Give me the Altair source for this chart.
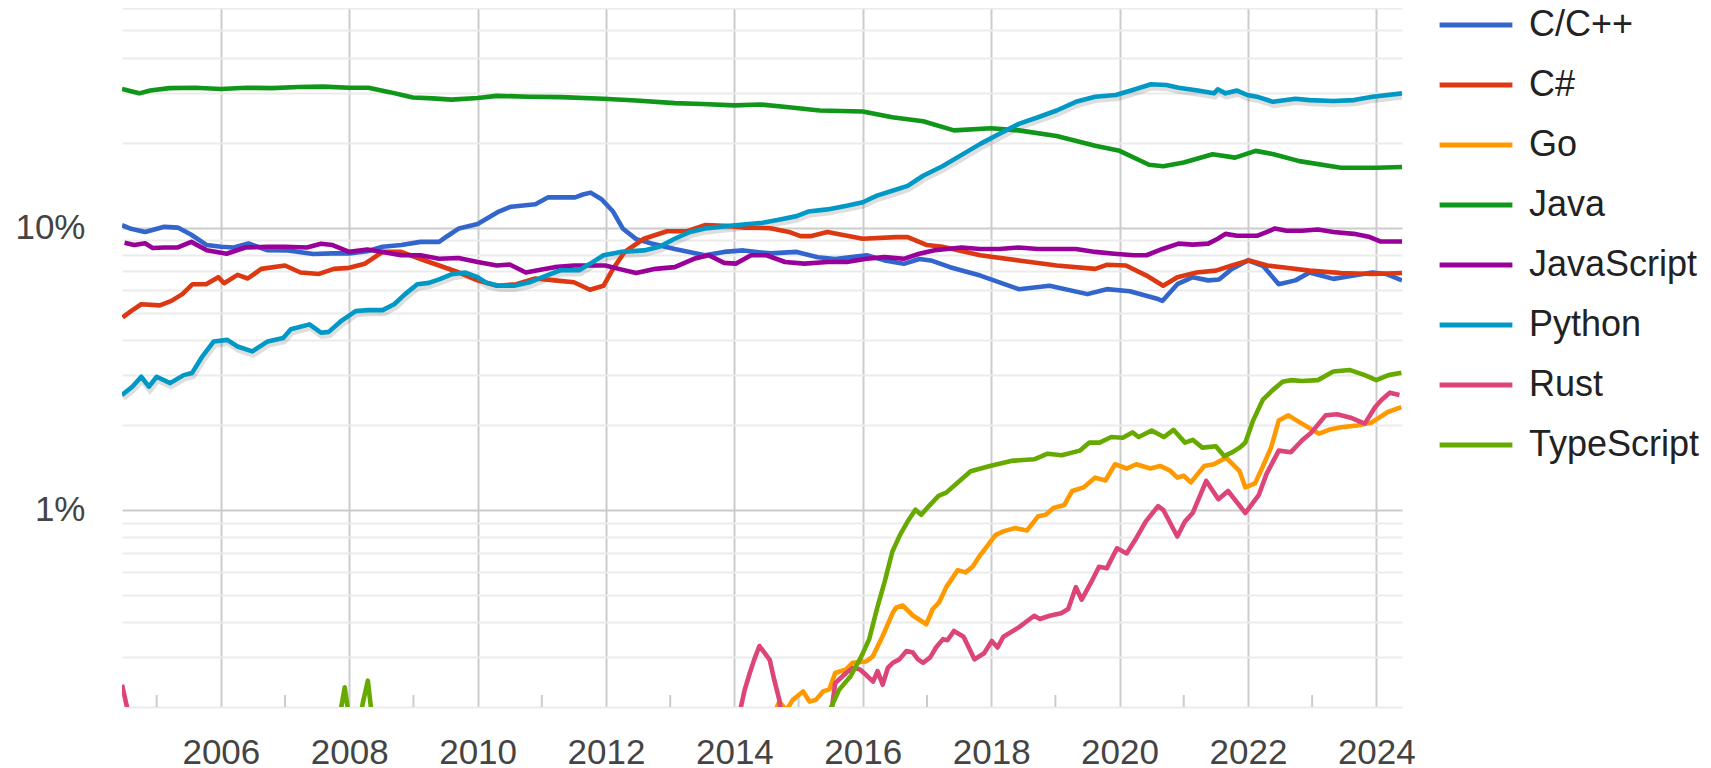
import altair as alt
import pandas as pd

FONT = "Liberation Sans"

langs = ["C/C++", "C#", "Go", "Java", "JavaScript", "Python", "Rust", "TypeScript"]
colors = ["#3366cc", "#dc3912", "#ff9900", "#109618", "#990099", "#0099c6", "#dd4477", "#66aa00"]

cpp_years = [2004.46, 2004.6, 2004.82, 2005.12, 2005.33, 2005.54, 2005.78, 2006.0, 2006.2, 2006.43,
             2006.73, 2007.05, 2007.44, 2007.73, 2008.0, 2008.28, 2008.52, 2008.81, 2009.11, 2009.4,
             2009.52, 2009.71, 2010.0, 2010.33, 2010.52, 2010.9, 2011.1, 2011.52, 2011.64, 2011.76,
             2011.93, 2012.11, 2012.26, 2012.47, 2012.71, 2013.07, 2013.54, 2013.84, 2014.14, 2014.56,
             2014.97, 2015.3, 2015.57, 2016.06, 2016.34, 2016.64, 2016.88, 2017.06, 2017.36, 2017.83,
             2018.43, 2018.91, 2019.5, 2019.8, 2020.16, 2020.6, 2020.67, 2020.9, 2021.14, 2021.38,
             2021.55, 2021.75, 2022.0, 2022.24, 2022.48, 2022.74, 2022.96, 2023.33, 2023.65, 2023.94,
             2024.15, 2024.4]
cpp_vals = [10.2, 9.9, 9.65, 10.06, 10.0, 9.43, 8.67, 8.55, 8.5, 8.78,
            8.31, 8.3, 8.06, 8.1, 8.1, 8.24, 8.55, 8.67, 8.9, 8.9,
            9.3, 9.93, 10.3, 11.4, 11.86, 12.1, 12.8, 12.8, 13.1, 13.3,
            12.6, 11.4, 9.93, 9.1, 8.78, 8.4, 7.98, 8.2, 8.3, 8.1,
            8.2, 7.85, 7.74, 7.98, 7.65, 7.44, 7.74, 7.65, 7.24, 6.76,
            6.05, 6.22, 5.81, 6.05, 5.95, 5.58, 5.5, 6.3, 6.67, 6.5,
            6.55, 7.14, 7.65, 7.3, 6.3, 6.5, 6.93, 6.58, 6.76, 6.93,
            6.85, 6.5]

cs_years = [2004.47, 2004.6, 2004.76, 2005.05, 2005.23, 2005.4, 2005.56, 2005.77, 2005.96, 2006.05,
            2006.26, 2006.42, 2006.63, 2007.0, 2007.24, 2007.53, 2007.76, 2008.0, 2008.24, 2008.52,
            2008.81, 2009.11, 2009.4, 2009.71, 2010.0, 2010.3, 2010.6, 2010.9, 2011.2, 2011.5,
            2011.75, 2011.96, 2012.11, 2012.29, 2012.59, 2012.95, 2013.25, 2013.54, 2013.84, 2014.14,
            2014.56, 2014.85, 2015.03, 2015.2, 2015.45, 2016.0, 2016.52, 2016.7, 2017.0, 2017.24,
            2017.83, 2018.43, 2019.02, 2019.62, 2019.8, 2020.1, 2020.42, 2020.68, 2020.9, 2021.2,
            2021.5, 2021.75, 2022.02, 2022.3, 2022.6, 2022.96, 2023.45, 2023.94, 2024.4]
cs_vals = [4.8, 5.06, 5.35, 5.3, 5.5, 5.81, 6.3, 6.3, 6.67, 6.35,
           6.8, 6.6, 7.14, 7.34, 6.93, 6.85, 7.14, 7.2, 7.44, 8.2,
           8.2, 7.74, 7.34, 6.93, 6.5, 6.22, 6.3, 6.6, 6.5, 6.4,
           6.02, 6.22, 7.14, 8.2, 9.13, 9.7, 9.7, 10.2, 10.15, 10.0,
           9.95, 9.65, 9.33, 9.33, 9.65, 9.13, 9.25, 9.25, 8.67, 8.55,
           7.98, 7.65, 7.34, 7.14, 7.38, 7.34, 6.76, 6.22, 6.67, 6.93,
           7.04, 7.34, 7.65, 7.34, 7.2, 7.04, 6.9, 6.85, 6.9]

go_years = [2014.55, 2014.62, 2014.70, 2014.81, 2014.91, 2015.07, 2015.17, 2015.27, 2015.38, 2015.48,
            2015.57, 2015.74, 2015.84, 2016.05, 2016.16, 2016.31, 2016.47, 2016.52, 2016.62, 2016.78,
            2016.99, 2017.09, 2017.19, 2017.3, 2017.48, 2017.6, 2017.71, 2017.83, 2018.07, 2018.2,
            2018.37, 2018.56, 2018.73, 2018.85, 2018.97, 2019.14, 2019.26, 2019.44, 2019.62, 2019.78,
            2019.93, 2020.11, 2020.26, 2020.48, 2020.63, 2020.78, 2020.9, 2021.0, 2021.11, 2021.32,
            2021.47, 2021.66, 2021.87, 2021.96, 2022.11, 2022.23, 2022.36, 2022.48, 2022.63, 2022.84,
            2023.11, 2023.26, 2023.45, 2023.7, 2023.93, 2024.18, 2024.39]
go_vals = [0.15, 0.19, 0.209, 0.195, 0.212, 0.227, 0.209, 0.212, 0.227, 0.231,
           0.264, 0.272, 0.287, 0.29, 0.303, 0.357, 0.433, 0.45, 0.458, 0.422,
           0.393, 0.445, 0.47, 0.532, 0.611, 0.6, 0.628, 0.691, 0.815, 0.84,
           0.861, 0.845, 0.948, 0.96, 1.015, 1.04, 1.165, 1.2, 1.3, 1.27,
           1.45, 1.40, 1.45, 1.40, 1.43, 1.38, 1.30, 1.32, 1.25, 1.43,
           1.45, 1.53, 1.37, 1.2, 1.24, 1.42, 1.66, 2.07, 2.16, 2.02,
           1.86, 1.92, 1.96, 1.99, 2.04, 2.22, 2.31]

java_years = [2004.46, 2004.6, 2004.73, 2004.9, 2005.2, 2005.6, 2006.0, 2006.4, 2006.8, 2007.2,
              2007.6, 2008.0, 2008.3, 2008.63, 2008.99, 2009.3, 2009.59, 2010.0, 2010.3, 2010.8,
              2011.3, 2011.96, 2012.47, 2013.07, 2013.5, 2014.0, 2014.4, 2014.85, 2015.33, 2016.0,
              2016.46, 2016.94, 2017.42, 2018.0, 2018.43, 2019.02, 2019.62, 2020.0, 2020.46, 2020.68,
              2021.0, 2021.45, 2021.8, 2022.12, 2022.4, 2022.8, 2023.45, 2024.0, 2024.4]
java_vals = [31.0, 30.4, 29.9, 30.6, 31.2, 31.3, 31.0, 31.3, 31.2, 31.5,
             31.6, 31.3, 31.3, 30.2, 28.9, 28.7, 28.4, 28.8, 29.3, 29.1,
             29.0, 28.6, 28.2, 27.6, 27.4, 27.1, 27.3, 26.7, 26.0, 25.8,
             24.6, 23.8, 22.1, 22.5, 22.1, 21.1, 19.5, 18.7, 16.7, 16.5,
             17.0, 18.2, 17.7, 18.7, 18.2, 17.2, 16.3, 16.3, 16.4]

js_years = [2004.5, 2004.65, 2004.82, 2004.94, 2005.12, 2005.33, 2005.54, 2005.78, 2006.09, 2006.38,
            2006.73, 2007.0, 2007.34, 2007.56, 2007.74, 2008.0, 2008.28, 2008.52, 2008.81, 2009.11,
            2009.4, 2009.7, 2010.0, 2010.3, 2010.5, 2010.75, 2011.0, 2011.2, 2011.5, 2011.99,
            2012.23, 2012.47, 2012.77, 2013.07, 2013.37, 2013.6, 2013.84, 2014.02, 2014.26, 2014.5,
            2014.79, 2015.09, 2015.45, 2015.75, 2016.06, 2016.34, 2016.64, 2016.88, 2017.12, 2017.54,
            2017.83, 2018.13, 2018.43, 2018.73, 2019.32, 2019.62, 2019.92, 2020.22, 2020.42, 2020.67,
            2020.92, 2021.14, 2021.38, 2021.53, 2021.65, 2021.83, 2022.14, 2022.3, 2022.42, 2022.6,
            2022.84, 2023.09, 2023.33, 2023.65, 2023.88, 2024.06, 2024.4]
js_vals = [8.83, 8.67, 8.8, 8.46, 8.5, 8.5, 8.9, 8.31, 8.08, 8.5,
           8.55, 8.55, 8.5, 8.77, 8.67, 8.2, 8.36, 8.2, 7.98, 7.98,
           7.75, 7.8, 7.55, 7.34, 7.4, 6.93, 7.1, 7.24, 7.34, 7.34,
           7.11, 6.9, 7.14, 7.24, 7.75, 7.98, 7.5, 7.45, 7.98, 7.98,
           7.55, 7.45, 7.55, 7.55, 7.75, 7.86, 7.75, 8.08, 8.31, 8.5,
           8.4, 8.4, 8.5, 8.4, 8.4, 8.2, 8.08, 7.98, 7.98, 8.4,
           8.77, 8.7, 8.77, 9.13, 9.5, 9.35, 9.35, 9.65, 9.93, 9.75,
           9.75, 9.85, 9.65, 9.5, 9.28, 8.93, 8.93]

py_years = [2004.46, 2004.62, 2004.76, 2004.88, 2005.0, 2005.21, 2005.42, 2005.55, 2005.71, 2005.89,
            2006.1, 2006.26, 2006.49, 2006.73, 2006.97, 2007.09, 2007.38, 2007.56, 2007.68, 2007.87,
            2008.1, 2008.3, 2008.52, 2008.7, 2008.87, 2009.06, 2009.24, 2009.41, 2009.6, 2009.81,
            2010.0, 2010.14, 2010.33, 2010.57, 2010.81, 2011.05, 2011.29, 2011.58, 2011.75, 2011.96,
            2012.23, 2012.59, 2012.83, 2013.07, 2013.31, 2013.54, 2013.84, 2014.14, 2014.44, 2014.73,
            2014.97, 2015.15, 2015.45, 2015.75, 2016.0, 2016.22, 2016.46, 2016.7, 2016.94, 2017.24,
            2017.54, 2017.83, 2018.13, 2018.43, 2018.73, 2019.02, 2019.32, 2019.62, 2019.94, 2020.18,
            2020.49, 2020.73, 2020.92, 2021.22, 2021.47, 2021.53, 2021.65, 2021.83, 2021.99, 2022.14,
            2022.39, 2022.74, 2022.96, 2023.33, 2023.65, 2023.94, 2024.4]
py_vals = [2.55, 2.73, 2.96, 2.73, 2.96, 2.81, 3.0, 3.05, 3.49, 3.95,
           4.0, 3.79, 3.64, 3.95, 4.06, 4.36, 4.54, 4.24, 4.27, 4.66,
           5.06, 5.1, 5.1, 5.35, 5.81, 6.3, 6.37, 6.57, 6.84, 6.93,
           6.67, 6.37, 6.22, 6.22, 6.4, 6.73, 7.06, 7.06, 7.44, 7.98,
           8.2, 8.3, 8.55, 9.13, 9.65, 9.93, 10.1, 10.25, 10.4, 10.7,
           10.98, 11.4, 11.6, 11.96, 12.3, 12.98, 13.5, 14.06, 15.27, 16.5,
           18.1, 19.8, 21.5, 23.3, 24.6, 26.0, 27.9, 29.1, 29.5, 30.6,
           32.2, 32.0, 31.3, 30.6, 29.9, 30.9, 29.9, 30.6, 29.5, 29.1,
           27.9, 28.6, 28.3, 28.1, 28.3, 29.1, 29.9]

rust_years = [2004.46, 2004.66, 2013.95, 2014.08, 2014.16, 2014.24, 2014.31, 2014.39, 2014.47, 2014.55,
              2014.62, 2014.70, 2014.8, 2015.45, 2015.57, 2015.74, 2015.84, 2015.95, 2016.05, 2016.16,
              2016.23, 2016.31, 2016.39, 2016.47, 2016.57, 2016.68, 2016.78, 2016.86, 2016.94, 2017.05,
              2017.14, 2017.25, 2017.32, 2017.42, 2017.57, 2017.74, 2017.89, 2018.01, 2018.1, 2018.19,
              2018.43, 2018.67, 2018.76, 2018.91, 2019.09, 2019.2, 2019.32, 2019.41, 2019.56, 2019.68,
              2019.8, 2019.96, 2020.11, 2020.26, 2020.41, 2020.6, 2020.68, 2020.9, 2021.02, 2021.14,
              2021.35, 2021.54, 2021.69, 2021.96, 2022.17, 2022.29, 2022.48, 2022.67, 2022.84, 2022.99,
              2023.21, 2023.39, 2023.6, 2023.82, 2023.98, 2024.08, 2024.21, 2024.36]
rust_vals = [0.24, 0.15, 0.15, 0.19, 0.23, 0.264, 0.295, 0.329, 0.311, 0.294,
             0.25, 0.212, 0.15, 0.15, 0.243, 0.264, 0.275, 0.272, 0.26, 0.246,
             0.268, 0.24, 0.275, 0.287, 0.295, 0.316, 0.312, 0.295, 0.287, 0.3,
             0.325, 0.348, 0.345, 0.372, 0.355, 0.295, 0.31, 0.343, 0.325, 0.355,
             0.383, 0.421, 0.41, 0.421, 0.43, 0.445, 0.532, 0.48, 0.555, 0.628,
             0.62, 0.73, 0.7, 0.793, 0.91, 1.03, 1.0, 0.804, 0.91, 0.974,
             1.265, 1.09, 1.165, 0.974, 1.13, 1.34, 1.62, 1.6, 1.76, 1.88,
             2.16, 2.18, 2.12, 2.02, 2.31, 2.45, 2.6, 2.55]

ts_years = [2007.78, 2007.93, 2008.05, 2008.12, 2008.21, 2008.29, 2008.4, 2015.45, 2015.51, 2015.63,
            2015.81, 2015.98, 2016.1, 2016.22, 2016.34, 2016.46, 2016.58, 2016.70, 2016.82, 2016.91,
            2017.03, 2017.18, 2017.3, 2017.48, 2017.68, 2017.98, 2018.31, 2018.67, 2018.88, 2019.1,
            2019.38, 2019.53, 2019.69, 2019.87, 2020.05, 2020.2, 2020.3, 2020.5, 2020.69, 2020.84,
            2021.02, 2021.14, 2021.29, 2021.5, 2021.63, 2021.76, 2021.87, 2021.96, 2022.08, 2022.23,
            2022.39, 2022.54, 2022.67, 2022.84, 2023.09, 2023.33, 2023.58, 2023.82, 2024.0, 2024.19,
            2024.39]
ts_vals = [0.15, 0.235, 0.15, 0.15, 0.206, 0.248, 0.15, 0.15, 0.2, 0.23,
           0.257, 0.303, 0.348, 0.445, 0.555, 0.71, 0.815, 0.91, 1.0, 0.96,
           1.03, 1.12, 1.15, 1.25, 1.37, 1.43, 1.49, 1.51, 1.58, 1.56,
           1.62, 1.73, 1.73, 1.81, 1.80, 1.88, 1.81, 1.91, 1.81, 1.92,
           1.73, 1.77, 1.66, 1.68, 1.55, 1.6, 1.66, 1.73, 2.07, 2.45,
           2.66, 2.84, 2.88, 2.86, 2.88, 3.09, 3.13, 3.0, 2.88, 3.0,
           3.06]

even_years = list(range(2006, 2025, 2))
odd_years = list(range(2005, 2024, 2))
grid_values = [0.2, 0.3, 0.4, 0.5, 0.6, 0.7, 0.8, 0.9, 1, 2, 3, 4, 5, 6, 7, 8, 9, 10, 20, 30, 40, 50, 60]

series = [
    ("C/C++", cpp_years, cpp_vals),
    ("C#", cs_years, cs_vals),
    ("Go", go_years, go_vals),
    ("Java", java_years, java_vals),
    ("JavaScript", js_years, js_vals),
    ("Python", py_years, py_vals),
    ("Rust", rust_years, rust_vals),
    ("TypeScript", ts_years, ts_vals),
]
rows = []
for name, ys, vs in series:
    assert len(ys) == len(vs), name
    for y, v in zip(ys, vs):
        rows.append({"lang": name, "year": y, "share": v})
df = pd.DataFrame(rows)
py_df = df[df["lang"] == "Python"]
ticks_df = pd.DataFrame({"year": odd_years})

x_scale = alt.Scale(domain=[2004.46, 2024.4], nice=False, zero=False)
y_scale = alt.Scale(type="log", domain=[0.2, 60], nice=False)

x_axis = alt.Axis(values=even_years, format="d", grid=True, gridColor="#cccccc", gridWidth=2,
                  ticks=False, tickSize=0, domain=False, labelFontSize=35, labelFont=FONT,
                  labelColor="#444444", labelPadding=28, title=None, labelFlush=False)
y_axis = alt.Axis(values=grid_values,
                  labelExpr="datum.value == 1 ? '1%' : (datum.value == 10 ? '10%' : '')",
                  grid=True,
                  gridColor={"condition": {"test": "datum.value == 1 || datum.value == 10",
                                           "value": "#cccccc"}, "value": "#ebebeb"},
                  gridWidth=2, ticks=False, tickSize=0, domain=False, labelFontSize=35,
                  labelFont=FONT, labelColor="#444444", labelPadding=37, title=None)

X = alt.X("year:Q", scale=x_scale, axis=x_axis)
Y = alt.Y("share:Q", scale=y_scale, axis=y_axis)

odd_ticks = alt.Chart(ticks_df).mark_rule(color="#cccccc", strokeWidth=2).encode(
    x=X,
    y=alt.value(687),
    y2=alt.value(699),
)

shadow = alt.Chart(py_df).mark_line(color="#000000", opacity=0.13, strokeWidth=6.5,
                                    yOffset=3, xOffset=1, clip=True).encode(x=X, y=Y)

lines = alt.Chart(df).mark_line(strokeWidth=4.6, clip=True, strokeJoin="round").encode(
    x=X,
    y=Y,
    color=alt.Color("lang:N", scale=alt.Scale(domain=langs, range=colors),
                    legend=alt.Legend(orient="none", legendX=1315, legendY=-22, title=None,
                                      symbolType="stroke", symbolSize=5300,
                                      symbolStrokeWidth=4.8, labelFontSize=36,
                                      labelFont=FONT, labelColor="#222222", labelOffset=14,
                                      labelLimit=400, rowPadding=3, padding=0)),
)

chart = alt.layer(odd_ticks, shadow, lines).properties(
    width=1280,
    height=699,
    autosize=alt.AutoSizeParams(type="none"),
    padding={"left": 114, "top": 0, "right": 301, "bottom": 60},
    background="white",
).configure_view(strokeWidth=0)

chart.save("out.html", embed_options={"renderer": "svg", "actions": False})
